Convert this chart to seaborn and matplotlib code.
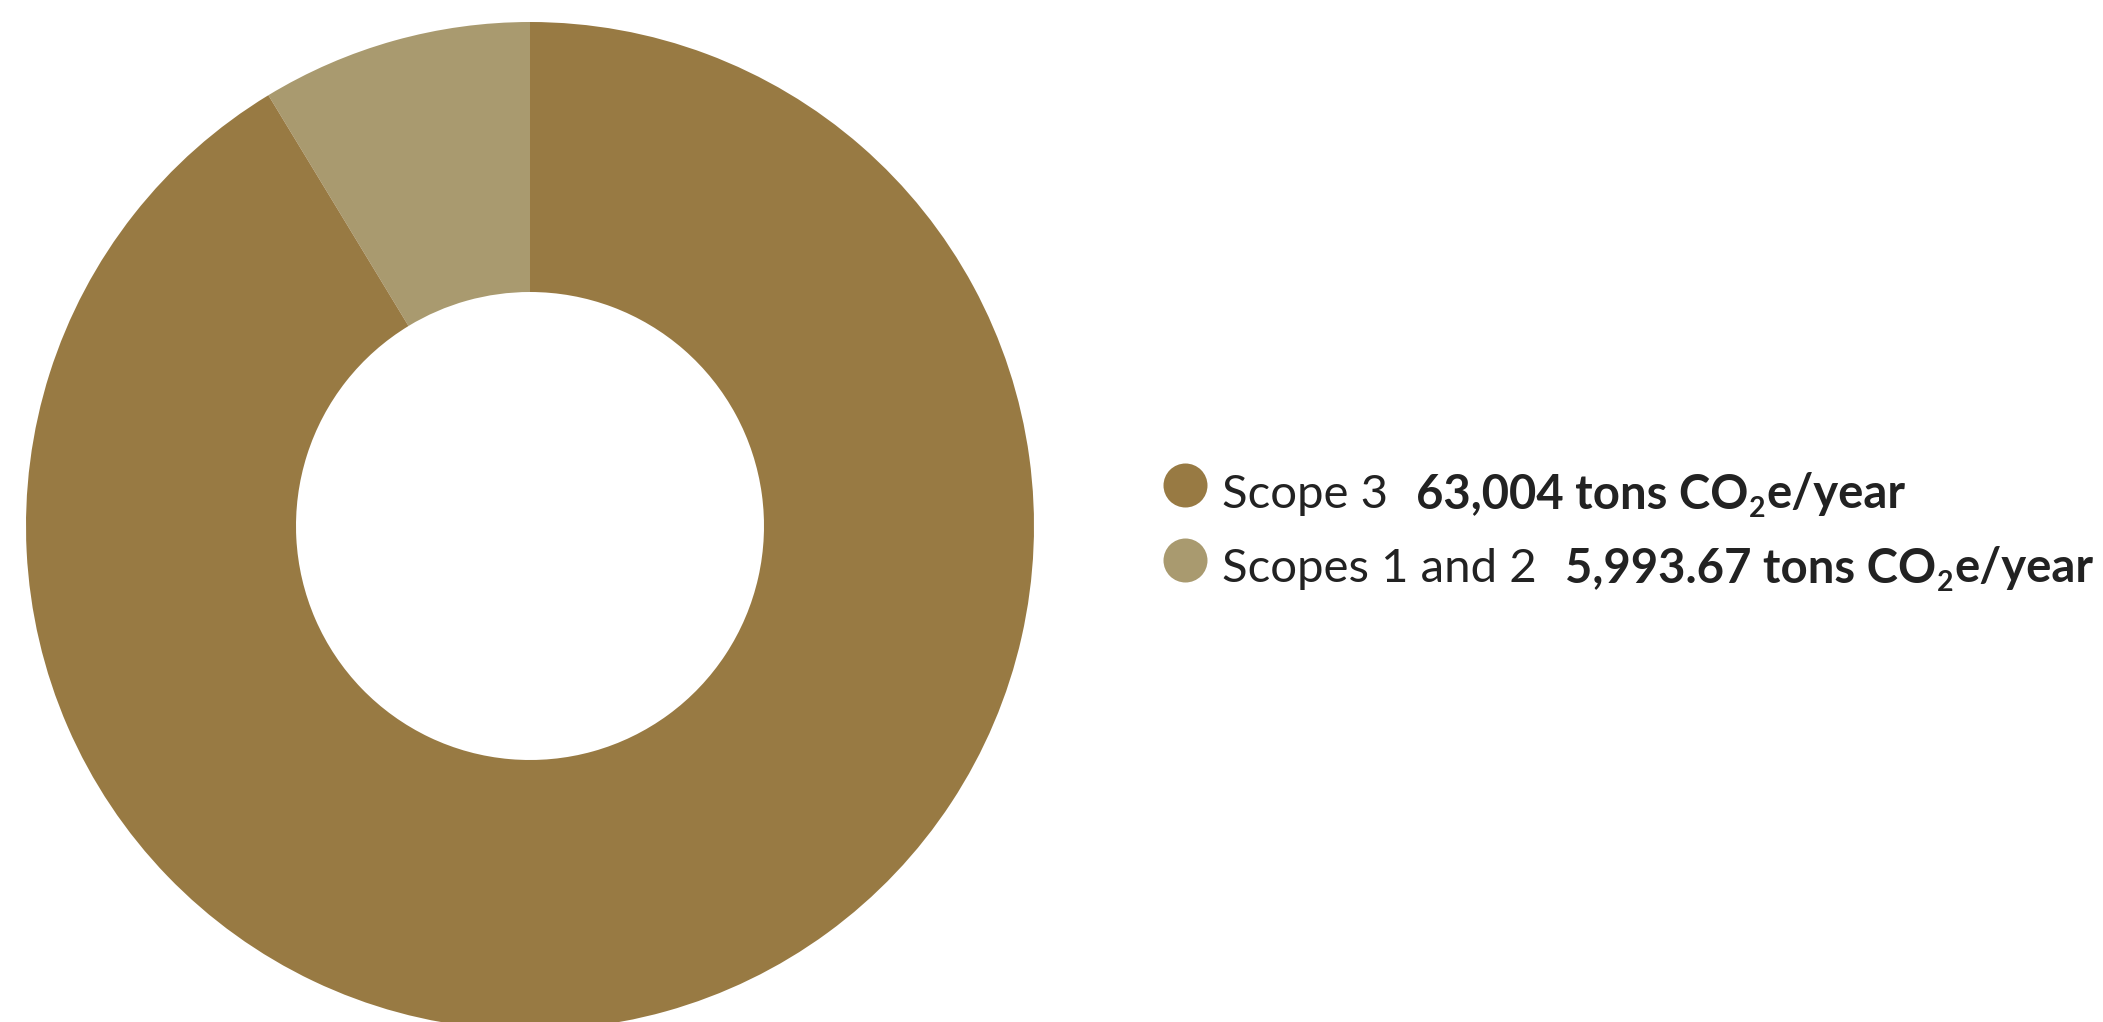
import matplotlib
matplotlib.use("Agg")
import matplotlib.pyplot as plt
import seaborn as sns

# ---- data ----
labels = ["Scopes 1 and 2", "Scope 3"]
values = [5993.67, 63004]
value_texts = ["5,993.67", "63,004"]
unit_main = " tons CO"
unit_sub = "2"
unit_tail = "e/year"
colors = ["#A99A6F", "#987A43"]
legend_order = [1, 0]

sns.set_theme(style="white")
plt.rcParams['font.family'] = ['Lato', 'DejaVu Sans']

W, H = 2103, 1022
fig = plt.figure(figsize=(W / 100, H / 100), dpi=100)
fig.patch.set_facecolor("white")

cx, cy, R = 530, 526, 504
ax = fig.add_axes([(cx - R) / W, (H - cy - R) / H, 2 * R / W, 2 * R / H])
ax.pie(values, colors=colors, startangle=90, counterclock=True, radius=1,
       wedgeprops=dict(width=1 - 234 / 504, linewidth=0))
ax.set_xlim(-1, 1)
ax.set_ylim(-1, 1)
ax.axis("off")

# legend axes in pixel coordinates
lax = fig.add_axes([0, 0, 1, 1], zorder=3)
lax.set_xlim(0, W)
lax.set_ylim(H, 0)
lax.axis("off")
lax.patch.set_alpha(0)

renderer = fig.canvas.get_renderer()
fs = 34
txt_color = "#222222"
marker_y = [485, 560]
base_y = [508, 582]
marker_x = 1185
text_x = 1222


def put(x, y, s, weight, size, dy=0):
    t = lax.text(x, y + dy, s, fontsize=size, fontweight=weight, color=txt_color,
                 ha="left", va="baseline")
    bb = t.get_window_extent(renderer=renderer)
    return x + bb.width


for row, idx in enumerate(legend_order):
    lax.scatter([marker_x], [marker_y[row]], s=(44 * 0.72) ** 2, color=colors[idx],
                linewidths=0)
    x = put(text_x, base_y[row], labels[idx], "normal", fs)
    x += 28
    x = put(x, base_y[row], value_texts[idx] + unit_main, "bold", fs)
    x = put(x + 1, base_y[row], unit_sub, "bold", fs * 0.6, dy=9)
    x = put(x + 1, base_y[row], unit_tail, "bold", fs)

fig.savefig("out.png", dpi=100, facecolor="white")
